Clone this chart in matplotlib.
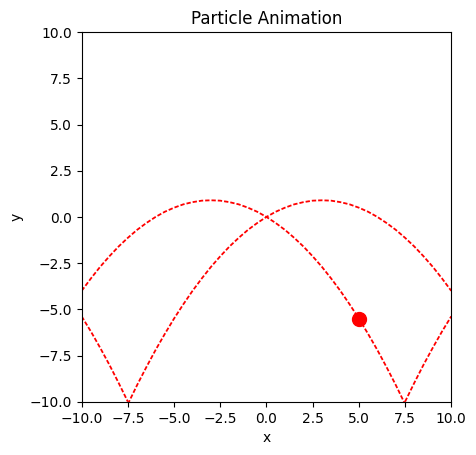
import matplotlib
matplotlib.use("Agg")
import matplotlib.pyplot as plt

# Trajectory pieces (x step 0.5)
arc_left_x = [-10.0, -9.5, -9.0, -8.5, -8.0, -7.5, -7.0, -6.5, -6.0, -5.5, -5.0, -4.5,
              -4.0, -3.5, -3.0, -2.5, -2.0, -1.5, -1.0, -0.5, 0.0, 0.5, 1.0, 1.5,
              2.0, 2.5, 3.0, 3.5, 4.0, 4.5, 5.0, 5.5, 6.0, 6.5, 7.0, 7.5]
arc_left_y = [-4.0, -3.33, -2.7, -2.13, -1.6, -1.13, -0.7, -0.33, 0.0, 0.28, 0.5, 0.68,
              0.8, 0.88, 0.9, 0.88, 0.8, 0.68, 0.5, 0.28, 0.0, -0.33, -0.7, -1.13,
              -1.6, -2.13, -2.7, -3.33, -4.0, -4.73, -5.5, -6.33, -7.2, -8.13, -9.1, -10.13]

arc_right_x = [-7.5, -7.0, -6.5, -6.0, -5.5, -5.0, -4.5, -4.0, -3.5, -3.0, -2.5, -2.0,
               -1.5, -1.0, -0.5, 0.0, 0.5, 1.0, 1.5, 2.0, 2.5, 3.0, 3.5, 4.0,
               4.5, 5.0, 5.5, 6.0, 6.5, 7.0, 7.5, 8.0, 8.5, 9.0, 9.5, 10.0]
arc_right_y = [-10.13, -9.1, -8.13, -7.2, -6.33, -5.5, -4.73, -4.0, -3.33, -2.7, -2.13, -1.6,
               -1.13, -0.7, -0.33, 0.0, 0.28, 0.5, 0.68, 0.8, 0.88, 0.9, 0.88, 0.8,
               0.68, 0.5, 0.28, 0.0, -0.33, -0.7, -1.13, -1.6, -2.13, -2.7, -3.33, -4.0]

bounce_right_x = [7.5, 8.0, 8.5, 9.0, 9.5, 10.0]
bounce_right_y = [-10.0, -8.98, -8.0, -7.08, -6.2, -5.38]

bounce_left_x = [-10.0, -9.5, -9.0, -8.5, -8.0, -7.5]
bounce_left_y = [-5.38, -6.2, -7.08, -8.0, -8.98, -10.0]

particle_x = [5.0]
particle_y = [-5.5]

fig, ax = plt.subplots()
for xs, ys in [(arc_left_x, arc_left_y), (arc_right_x, arc_right_y),
               (bounce_right_x, bounce_right_y), (bounce_left_x, bounce_left_y)]:
    ax.plot(xs, ys, color="red", linewidth=1.3, linestyle="--", dashes=(2.4, 1.1))
ax.plot(particle_x, particle_y, "ro", markersize=10)

ax.set_xlim(-10, 10)
ax.set_ylim(-10, 10)
ax.set_aspect("equal")
ax.set_title("Particle Animation")
ax.set_xlabel("x")
ax.set_ylabel("y")

plt.savefig("out.png", bbox_inches="tight")
